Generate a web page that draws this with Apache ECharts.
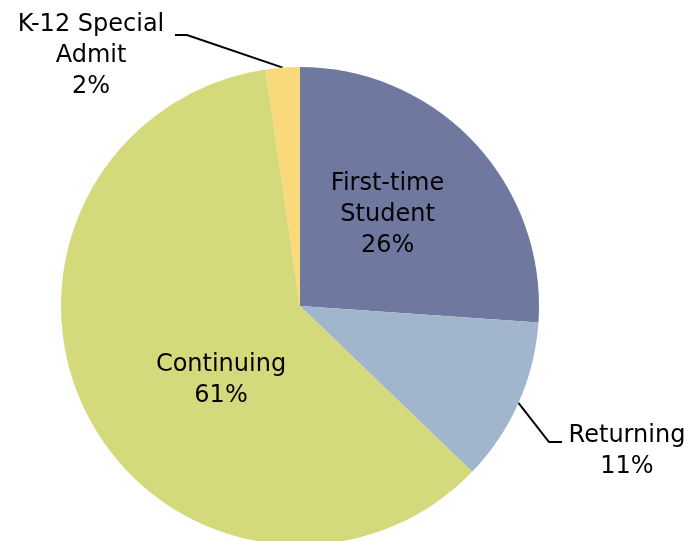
<!DOCTYPE html>
<html>
<head>
<meta charset="utf-8">
<script src="https://cdn.jsdelivr.net/npm/echarts@6/dist/echarts.min.js"></script>
<style>
  html, body { margin: 0; padding: 0; background: #fff; }
  #main { width: 698px; height: 541px; }
</style>
</head>
<body>
<div id="main"></div>
<script>
var categories = ['First-time\nStudent', 'Returning', 'Continuing', 'K-12 Special\nAdmit'];
var shares = [26.1, 11.1, 60.5, 2.3];
var colors = ['#6f79a0', '#a1b6cd', '#d4da7b', '#f9d97a'];

var myChart = echarts.init(document.getElementById('main'));

// where the outside labels sit: [x, y] of label centre, and the elbow of the leader
var outsideLabels = {
    1: { x: 627, y: 451, elbow: [549, 442], end: [562, 442] },
    3: { x: 91, y: 56, elbow: [187, 35], end: [175, 35] }
};

var data = categories.map(function (name, i) {
    var item = { name: name, value: shares[i], itemStyle: { color: colors[i] } };
    if (outsideLabels[i]) {
        item.label = { position: 'outside' };
        item.labelLine = { show: true };
    } else {
        item.label = { position: 'inside' };
        item.labelLine = { show: false };
    }
    return item;
});
data[0].label.offset = [-2, -8];
data[2].label.offset = [30, 18];

option = {
    animation: false,
    series: [
        {
            type: 'pie',
            radius: 239,
            center: [300, 306],
            startAngle: 90,
            clockwise: true,
            data: data,
            label: {
                show: true,
                formatter: function (p) {
                    return p.name + '\n' + Math.round(p.value) + '%';
                },
                color: '#000',
                fontFamily: 'DejaVu Sans',
                fontSize: 24,
                lineHeight: 31,
                align: 'center'
            },
            labelLine: {
                lineStyle: { color: '#000', width: 2 },
                smooth: false
            },
            labelLayout: function (params) {
                var o = outsideLabels[params.dataIndex];
                if (!o) return {};
                var start = params.labelLinePoints ? params.labelLinePoints[0] : o.elbow;
                return {
                    x: o.x,
                    y: o.y,
                    align: 'center',
                    verticalAlign: 'middle',
                    labelLinePoints: [start, o.elbow, o.end]
                };
            }
        }
    ]
};

myChart.setOption(option);
</script>
</body>
</html>
